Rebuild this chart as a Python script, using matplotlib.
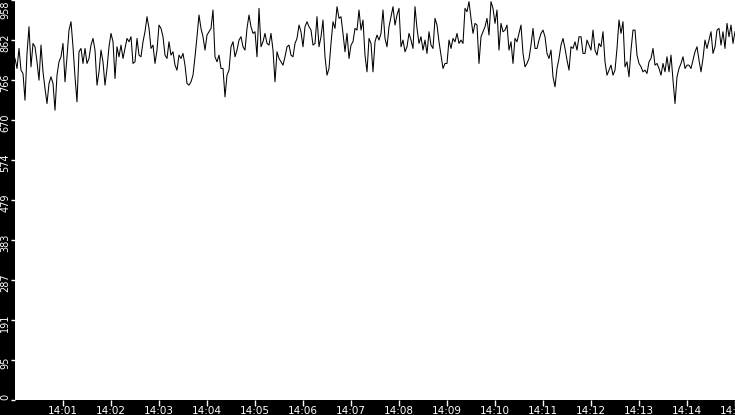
import matplotlib
matplotlib.use('Agg')
import matplotlib.pyplot as plt
import matplotlib.dates as mdates
import matplotlib.transforms as mtransforms
import numpy as np
import pandas as pd

# samples every 2.5 s starting 14:00:00
start = '2024-01-01 14:00:00'
step = '2500ms'

vals_a = [818, 794, 842, 790, 782, 718, 830, 894, 798, 854, 846, 810, 766, 850, 786, 746, 710, 758, 774, 758,
          694, 778, 810, 822, 854, 762, 822, 886, 906, 846, 774, 714, 834, 842, 806, 842, 806, 818, 850, 866,
          838, 754, 786, 838, 810, 754, 794, 846, 878, 858, 770, 846, 822, 850, 818, 842, 866, 858, 870, 806]
vals_b = [810, 866, 826, 822, 858, 882, 918, 890, 842, 850, 806, 838, 898, 890, 870, 826, 818, 858, 826, 834,
          802, 790, 826, 818, 830, 802, 758, 754, 762, 778, 822, 870, 922, 890, 870, 838, 874, 882, 890, 934,
          822, 810, 826, 794, 794, 726, 778, 790, 846, 858, 822, 838, 862, 870, 846, 838, 890, 922, 894, 878]
vals_c = [882, 822, 938, 846, 858, 878, 854, 850, 878, 838, 762, 834, 818, 810, 802, 822, 846, 850, 826, 822,
          854, 866, 898, 882, 846, 894, 906, 894, 886, 850, 854, 918, 846, 870, 910, 822, 778, 794, 854, 906,
          890, 942, 914, 918, 878, 834, 878, 818, 850, 858, 890, 886, 934, 886, 910, 826, 786, 866, 854, 786]
vals_d = [858, 874, 862, 878, 934, 866, 846, 894, 918, 942, 898, 922, 938, 846, 862, 834, 846, 878, 862, 842,
          942, 890, 854, 870, 838, 862, 830, 882, 850, 842, 914, 898, 858, 826, 794, 806, 806, 862, 842, 866,
          858, 878, 854, 862, 854, 938, 930, 954, 914, 878, 902, 898, 806, 870, 882, 894, 914, 874, 954, 938]
vals_e = [902, 934, 838, 902, 882, 886, 898, 838, 858, 806, 866, 858, 878, 898, 830, 798, 806, 818, 850, 890,
          842, 842, 862, 878, 886, 870, 830, 818, 838, 774, 750, 794, 818, 850, 866, 842, 814, 790, 846, 842,
          858, 838, 870, 870, 830, 830, 862, 850, 838, 886, 838, 826, 854, 846, 882, 810, 778, 790, 802, 778]
vals_f = [790, 842, 910, 878, 906, 798, 810, 774, 838, 886, 886, 826, 806, 798, 786, 790, 782, 810, 818, 842,
          802, 806, 794, 778, 806, 786, 822, 786, 826, 766, 710, 774, 794, 806, 822, 794, 802, 802, 794, 814,
          834, 846, 814, 786, 818, 862, 842, 862, 882, 830, 846, 886, 890, 850, 882, 842, 902, 870, 898, 854, 882]

values = vals_a + vals_b + vals_c + vals_d + vals_e + vals_f
times = pd.date_range(start, periods=len(values), freq=step)

y_max = 958
y_ticks = [i * y_max / 10 for i in range(11)]
y_labels = [str(int(t)) for t in y_ticks]

fig = plt.figure(figsize=(7.35, 4.15), dpi=100, facecolor='black')
ax = fig.add_axes([15 / 735, 15 / 415, 720 / 735, 400 / 415])
ax.set_facecolor('white')

ax.plot(times, values, color='black', lw=0.75)

ax.set_ylim(0, y_max)
ax.set_xlim(pd.Timestamp('2024-01-01 14:00:00'), pd.Timestamp('2024-01-01 14:15:00'))

for s in ax.spines.values():
    s.set_visible(False)

ax.xaxis.set_major_locator(mdates.MinuteLocator(byminute=range(1, 16)))
ax.xaxis.set_major_formatter(mdates.DateFormatter('%H:%M'))
ax.set_yticks(y_ticks)
ax.set_yticklabels(y_labels, rotation=90, va='center')

ax.tick_params(axis='both', colors='white', labelcolor='white', width=1, direction='out')
ax.tick_params(axis='x', labelsize=7.5, length=4, pad=0.5)
ax.tick_params(axis='y', labelsize=7, length=3, pad=0.5)

# nudge the y labels a bit down, keep the first and last inside the plot
labs = ax.get_yticklabels()
shift = mtransforms.ScaledTranslation(0, -3 / 100, fig.dpi_scale_trans)
for i, lab in enumerate(labs):
    if i == 0:
        lab.set_va('bottom')
    elif i == len(labs) - 1:
        lab.set_va('top')
    else:
        lab.set_transform(lab.get_transform() + shift)

fig.savefig('out.png', dpi=100, facecolor='black')
